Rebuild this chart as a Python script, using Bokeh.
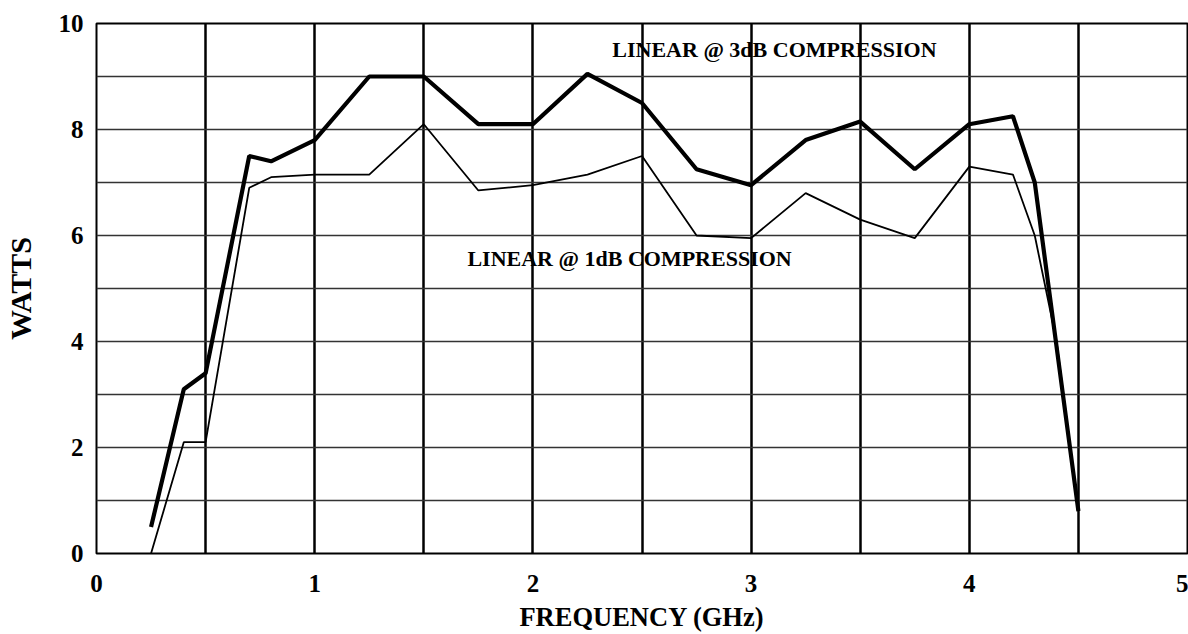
from bokeh.plotting import figure
from bokeh.models import FixedTicker, Range1d, Label
from bokeh.embed import file_html
from bokeh.resources import INLINE

# Data
freq_3db = [0.25, 0.4, 0.5, 0.7, 0.8, 1.0, 1.25, 1.5, 1.75, 2.0, 2.25, 2.5, 2.75,
            3.0, 3.25, 3.5, 3.75, 4.0, 4.2, 4.3, 4.5]
watts_3db = [0.5, 3.1, 3.4, 7.5, 7.4, 7.8, 9.0, 9.0, 8.1, 8.1, 9.05, 8.5, 7.25,
             6.95, 7.8, 8.15, 7.25, 8.1, 8.25, 7.0, 0.8]
freq_1db = [0.25, 0.4, 0.5, 0.7, 0.8, 1.0, 1.25, 1.5, 1.75, 2.0, 2.25, 2.5, 2.75,
            3.0, 3.25, 3.5, 3.75, 4.0, 4.2, 4.3, 4.4, 4.5]
watts_1db = [0.0, 2.1, 2.1, 6.9, 7.1, 7.15, 7.15, 8.1, 6.85, 6.95, 7.15, 7.5, 6.0,
             5.95, 6.8, 6.3, 5.95, 7.3, 7.15, 6.0, 4.0, 0.8]

x_ticks = [0, 1, 2, 3, 4, 5]
y_ticks = [0, 2, 4, 6, 8, 10]
x_grid = [0.5, 1, 1.5, 2, 2.5, 3, 3.5, 4, 4.5]
y_grid = [1, 2, 3, 4, 5, 6, 7, 8, 9]

FONT = "Liberation Serif"

p = figure(width=1188, height=634, output_backend="svg", toolbar_location=None,
           x_range=Range1d(0, 5), y_range=Range1d(0, 10),
           min_border_left=95, min_border_right=1, min_border_top=23,
           min_border_bottom=81)

p.outline_line_color = "black"
p.outline_line_width = 2

p.xaxis.ticker = FixedTicker(ticks=x_ticks)
p.yaxis.ticker = FixedTicker(ticks=y_ticks)
p.xgrid.ticker = FixedTicker(ticks=x_grid)
p.ygrid.ticker = FixedTicker(ticks=y_grid)
p.xgrid.grid_line_color = "black"
p.xgrid.grid_line_width = 2.5
p.ygrid.grid_line_color = "#333333"
p.ygrid.grid_line_width = 1.3

for ax in (p.xaxis, p.yaxis):
    ax.axis_line_color = None
    ax.major_tick_line_color = None
    ax.minor_tick_line_color = None
    ax.major_tick_out = 0
    ax.major_tick_in = 0
    ax.minor_tick_out = 0
    ax.minor_tick_in = 0
    ax.major_label_text_font = FONT
    ax.major_label_text_font_style = "bold"
    ax.major_label_text_font_size = "25px"
    ax.major_label_text_color = "black"
    ax.axis_label_text_font = FONT
    ax.axis_label_text_font_style = "bold"
    ax.axis_label_text_color = "black"

p.xaxis.axis_label = "FREQUENCY (GHz)"
p.yaxis.axis_label = "WATTS"
p.xaxis.axis_label_text_font_size = "26.5px"
p.yaxis.axis_label_text_font_size = "30px"
p.xaxis.major_label_text_line_height = 1.0
p.xaxis.axis_label_text_line_height = 1.0
p.xaxis.major_label_standoff = 21
p.xaxis.axis_label_standoff = 7
p.yaxis.major_label_standoff = 13
p.yaxis.axis_label_standoff = 19

p.line(freq_1db, watts_1db, line_color="black", line_width=1.8)
p.line(freq_3db, watts_3db, line_color="black", line_width=4.2)

lab1 = Label(x=2.364, y=9.51, text="LINEAR @ 3dB COMPRESSION",
             text_font=FONT, text_font_style="bold", text_font_size="22px",
             text_color="black", text_baseline="middle", text_align="left",
             level="image")
lab2 = Label(x=1.70, y=5.57, text="LINEAR @ 1dB COMPRESSION",
             text_font=FONT, text_font_style="bold", text_font_size="22px",
             text_color="black", text_baseline="middle", text_align="left",
             level="image")
p.add_layout(lab1)
p.add_layout(lab2)

open("out.html", "w").write(file_html(p, INLINE))
